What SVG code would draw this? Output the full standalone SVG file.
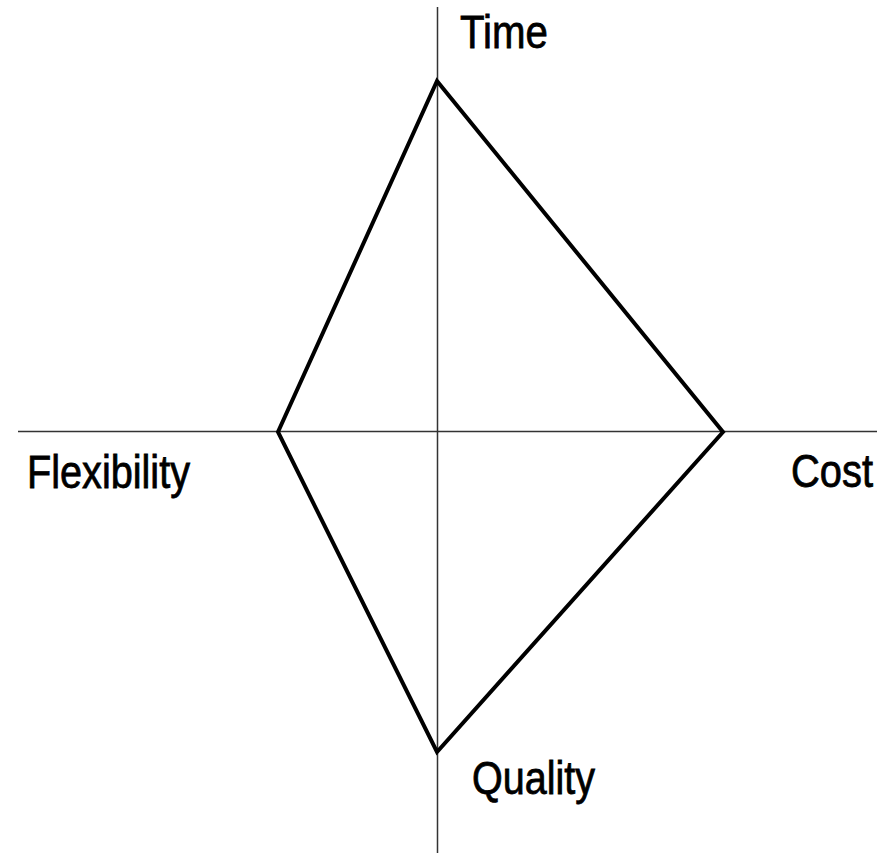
<svg xmlns="http://www.w3.org/2000/svg" width="886" height="853" viewBox="0 0 886 853">
<style>
.axis{stroke:#333;stroke-width:1.5;fill:none}
.shape{stroke:#000;stroke-width:4;fill:none;stroke-linejoin:miter}
.lbl{font-family:"Liberation Sans",Arial,sans-serif;font-size:47px;fill:#000;stroke:#000;stroke-width:0.8}
</style>
<rect width="886" height="853" fill="#fff"/>
<g id="connectors">
<line class="axis" x1="437.5" y1="7" x2="437.5" y2="853"/>
<line class="axis" x1="18" y1="431.5" x2="877" y2="431.5"/>
</g>
<g id="diamond">
<polygon class="shape" points="437,81 723,432 437,752 278,432"/>
</g>
<g id="time"><text class="lbl" x="460" y="48" textLength="88" lengthAdjust="spacingAndGlyphs">Time</text></g>
<g id="flexibility"><text class="lbl" x="27" y="488" textLength="163" lengthAdjust="spacingAndGlyphs">Flexibility</text></g>
<g id="cost"><text class="lbl" x="791" y="487" textLength="82" lengthAdjust="spacingAndGlyphs">Cost</text></g>
<g id="quality"><text class="lbl" x="472" y="794" textLength="123" lengthAdjust="spacingAndGlyphs">Quality</text></g>
</svg>
